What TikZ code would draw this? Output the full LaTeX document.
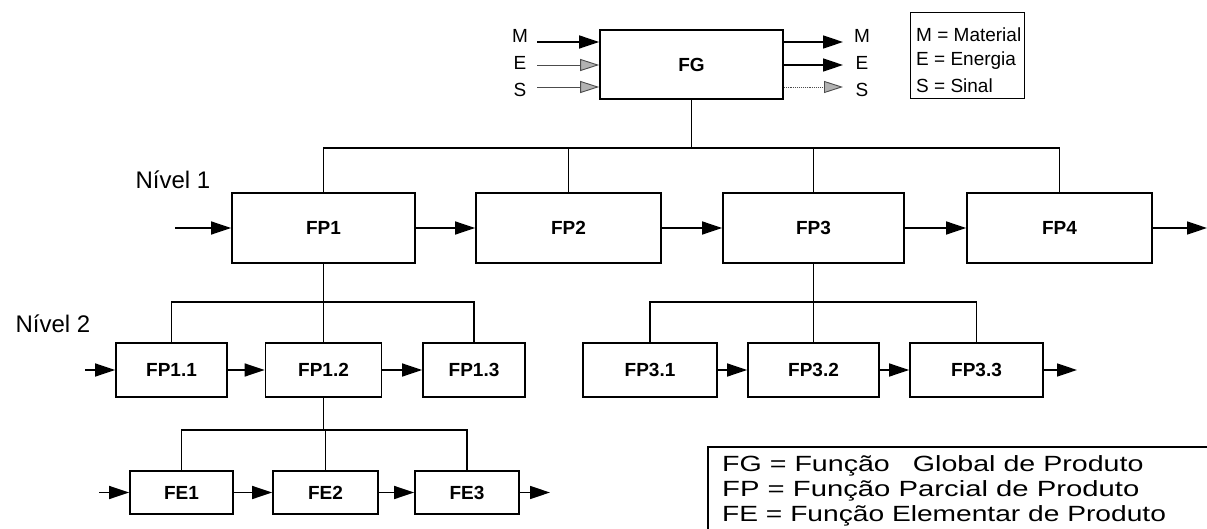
\documentclass[tikz,border=0pt]{standalone}
\usepackage{fontspec}
\setmainfont{Liberation Sans}
\usepackage{graphicx}
\usetikzlibrary{arrows.meta}
\newcommand{\hx}[2]{\scalebox{#1}[1]{#2}}
\tikzset{
  box/.style={draw, line width=1.7pt, inner sep=0pt, font=\fontsize{19}{22}\selectfont\bfseries},
  bus/.style={line width=1.4pt},
  arr/.style={line width=1.5pt, -{Triangle[length=20pt,width=13pt]}},
  garr/.style={line width=0.9pt, draw=black!70, -{Triangle[length=19pt,width=12pt,fill=black!30,color=black!70]}},
  lbl/.style={font=\fontsize{19}{22}\selectfont, inner sep=0pt},
  leg/.style={font=\fontsize{19}{22}\selectfont, inner sep=0pt, anchor=west},
  bleg/.style={font=\fontsize{22}{25}\selectfont, inner sep=0pt, anchor=west},
  lvl/.style={font=\fontsize{24}{27}\selectfont, inner sep=0pt},
}
\begin{document}
\begin{tikzpicture}[x=1pt,y=-1pt]
\useasboundingbox (0,0) rectangle (1207,529);
% ---------- FG ----------
\node[box, minimum width=183, minimum height=69] (FG) at (691.5,64.5) {FG};
\coordinate (mL) at (537,42);
\coordinate (eL) at (537,65);
\coordinate (sL) at (537,87);
\coordinate (mR) at (843,42);
\coordinate (eR) at (843,65);
\coordinate (sR) at (843,87);
\draw[arr] (mL) -- (FG.west |- mL);
\draw[garr] (eL) -- (FG.west |- eL);
\draw[garr] (sL) -- (FG.west |- sL);
\draw[arr] (FG.east |- mR) -- (mR);
\draw[arr] (FG.east |- eR) -- (eR);
\draw[garr, densely dotted] (FG.east |- sR) -- (sR);
\node[lbl] (lM) at (520,36) {M};
\node[lbl] (lE) at (520,63) {E};
\node[lbl] (lS) at (520,90) {S};
\node[lbl] (rM) at (862,36) {M};
\node[lbl] (rE) at (862,63) {E};
\node[lbl] (rS) at (862,90) {S};
% legend top
\node[draw, line width=1.2pt, minimum width=114, minimum height=86, anchor=north west, inner sep=0pt] (legbox) at (910,12) {};
\node[leg] (lg1) at (916,35) {M = Material};
\node[leg] (lg2) at (916,61) {E = Energia};
\node[leg] (lg3) at (916,86) {S = Sinal};
% ---------- Level 1 ----------
\node[lvl] (n1) at (173,180) {Nível 1};
\node[box, minimum width=183, minimum height=70] (FP1) at (323.5,228) {FP1};
\node[box, minimum width=185, minimum height=70] (FP2) at (568.5,228) {FP2};
\node[box, minimum width=181, minimum height=70] (FP3) at (813.5,228) {FP3};
\node[box, minimum width=185, minimum height=70] (FP4) at (1059.5,228) {FP4};
\coordinate (L1) at (0,148);
\draw[bus] (FG.south) -- (FG.south |- L1);
\draw[bus] (FP1.north) -- (FP1.north |- L1) -- (FP4.north |- L1) -- (FP4.north);
\draw[bus] (FP2.north) -- (FP2.north |- L1);
\draw[bus] (FP3.north) -- (FP3.north |- L1);
\coordinate (in1) at (175,228);
\coordinate (out1) at (1207,228);
\draw[arr] (in1) -- (FP1.west);
\draw[arr] (FP1.east) -- (FP2.west);
\draw[arr] (FP2.east) -- (FP3.west);
\draw[arr] (FP3.east) -- (FP4.west);
\draw[arr] (FP4.east) -- (out1);
% ---------- Level 2 ----------
\node[lvl] (n2) at (53,324) {Nível 2};
\node[box, minimum width=111, minimum height=54] (FP11) at (171.5,370) {FP1.1};
\node[box, minimum width=116, minimum height=54] (FP12) at (323.5,370) {FP1.2};
\node[box, minimum width=102, minimum height=54] (FP13) at (474,370) {FP1.3};
\coordinate (L2) at (0,302);
\draw[bus] (FP1.south) -- (FP1.south |- L2);
\draw[bus] (FP11.north) -- (FP11.north |- L2) -- (FP13.north |- L2) -- (FP13.north);
\draw[bus] (FP12.north) -- (FP12.north |- L2);
\coordinate (in2) at (85,370);
\draw[arr] (in2) -- (FP11.west);
\draw[arr] (FP11.east) -- (FP12.west);
\draw[arr] (FP12.east) -- (FP13.west);
\node[box, minimum width=134, minimum height=54] (FP31) at (650,370) {FP3.1};
\node[box, minimum width=131, minimum height=54] (FP32) at (813.5,370) {FP3.2};
\node[box, minimum width=133, minimum height=54] (FP33) at (976.5,370) {FP3.3};
\draw[bus] (FP3.south) -- (FP3.south |- L2);
\draw[bus] (FP31.north) -- (FP31.north |- L2) -- (FP33.north |- L2) -- (FP33.north);
\draw[bus] (FP32.north) -- (FP32.north |- L2);
\coordinate (out3) at (1077,370);
\draw[arr] (FP31.east) -- (FP32.west);
\draw[arr] (FP32.east) -- (FP33.west);
\draw[arr] (FP33.east) -- (out3);
% ---------- Level 3 ----------
\node[box, minimum width=103, minimum height=43] (FE1) at (181.5,492.5) {FE1};
\node[box, minimum width=105, minimum height=43] (FE2) at (325.5,492.5) {FE2};
\node[box, minimum width=104, minimum height=43] (FE3) at (467,492.5) {FE3};
\coordinate (L3) at (0,430);
\draw[bus] (FP12.south) -- (FP12.south |- L3);
\draw[bus] (FE1.north) -- (FE1.north |- L3) -- (FE3.north |- L3) -- (FE3.north);
\draw[bus] (FE2.north) -- (FE2.north |- L3);
\coordinate (in3) at (99,492.5);
\coordinate (out4) at (550,492.5);
\draw[arr] (in3) -- (FE1.west);
\draw[arr] (FE1.east) -- (FE2.west);
\draw[arr] (FE2.east) -- (FE3.west);
\draw[arr] (FE3.east) -- (out4);
% ---------- bottom legend ----------
\coordinate (bl1) at (1207,447);
\coordinate (bl2) at (708,529);
\draw[line width=1.2pt] (bl1) -| (bl2);
\node[bleg] (t1) at (722,466) {\hx{1.3}{FG = Função\ \ \hspace{0.25em}Global de Produto}};
\node[bleg] (t2) at (722,491) {\hx{1.33}{FP = Função Parcial de Produto}};
\node[bleg] (t3) at (722,516) {\hx{1.28}{FE = Função Elementar de Produto}};
\end{tikzpicture}
\end{document}
